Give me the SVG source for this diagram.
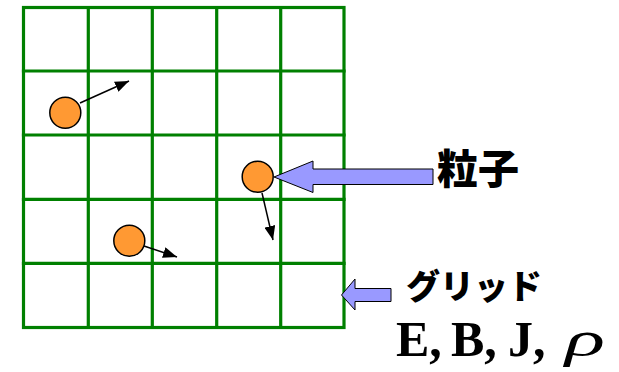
<svg xmlns="http://www.w3.org/2000/svg" width="619" height="372" viewBox="0 0 619 372">
<style>
.g{stroke:#008000;stroke-width:3.2;fill:none;stroke-linecap:square}
.p{fill:#FF9933;stroke:#000;stroke-width:1.5}
.v{stroke:#000;stroke-width:1.5;fill:none}
.b{fill:#9999FF;stroke:#000;stroke-width:1}
.jp{font-family:"Noto Sans CJK JP","Noto Sans CJK SC",sans-serif;font-weight:900;fill:#000}
.m{font-family:"Liberation Serif",serif;font-weight:bold;font-size:50px;fill:#000}
</style>
<defs>
<marker id="ah" viewBox="0 0 14 11" refX="14" refY="5.5" markerWidth="14" markerHeight="11" markerUnits="userSpaceOnUse" orient="auto">
<path d="M0,0 L14,5.5 L0,11 Z" fill="#000"/>
</marker>
</defs>
<rect width="619" height="372" fill="#fff"/>
<g id="grid" class="g">
<rect x="23.5" y="7.5" width="320.5" height="320"/>
<path d="M88.3,7.5V327.5 M152.3,7.5V327.5 M216.7,7.5V327.5 M280.7,7.5V327.5 M23.5,71H344 M23.5,135H344 M23.5,199.3H344 M23.5,263.3H344"/>
</g>
<g id="connectors">
<line class="v" x1="80" y1="103" x2="129" y2="81" marker-end="url(#ah)"/>
<line class="v" x1="262" y1="193" x2="273" y2="240" marker-end="url(#ah)"/>
<line class="v" x1="144" y1="246" x2="177" y2="257" marker-end="url(#ah)"/>
<polygon class="b" points="274,177 313,161 313,169 433,169 433,184.5 313,184.5 313,192.5"/>
<polygon class="b" points="341.5,295 355,279 355,288.5 391,288.5 391,301.5 355,301.5 355,310"/>
</g>
<g id="particle1"><circle class="p" cx="65.3" cy="112.7" r="15.5"/></g>
<g id="particle2"><circle class="p" cx="257.7" cy="176.7" r="15.5"/></g>
<g id="particle3"><circle class="p" cx="129.3" cy="240.7" r="15.5"/></g>
<g id="label-particle"><text class="jp" x="437" y="184" font-size="41">粒子</text></g>
<g id="label-grid"><text class="jp" x="406" y="299" font-size="34">グリッド</text></g>
<g id="label-fields">
<text class="m" x="396" y="356">E,</text>
<text class="m" x="451" y="356">B,</text>
<text class="m" x="508" y="356">J,</text>
<text x="565" y="356" font-family="'Liberation Serif',serif" font-style="italic" font-size="50" textLength="40" lengthAdjust="spacingAndGlyphs" fill="#000">ρ</text>
</g>
</svg>
